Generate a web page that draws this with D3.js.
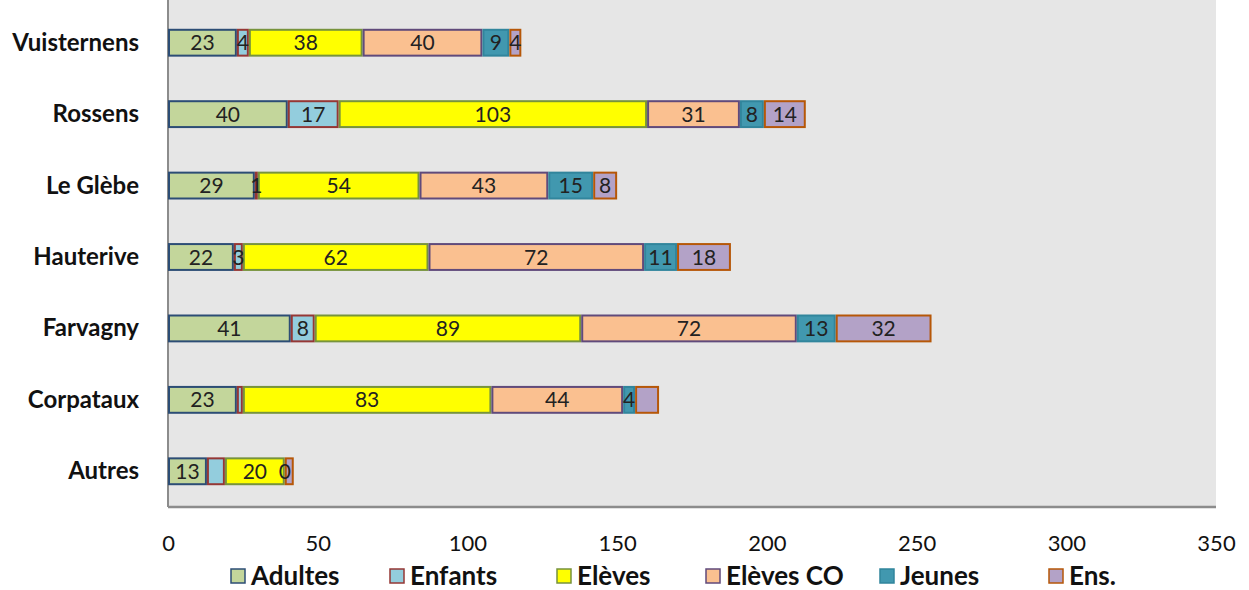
<!DOCTYPE html>
<html><head><meta charset="utf-8">
<script src="https://cdn.jsdelivr.net/npm/d3@7"></script>
<style>body{margin:0;background:#fff}svg{display:block}</style>
</head><body>
<svg id="c" width="1249" height="590"></svg>
<script>
const categories = ["Vuisternens","Rossens","Le Glèbe","Hauterive","Farvagny","Corpataux","Autres"];
const seriesNames = ["Adultes","Enfants","Elèves","Elèves CO","Jeunes","Ens."];
const adultes  = [23, 40, 29, 22, 41, 23, 13];
const enfants  = [4, 17, 1, 3, 8, 2, 6];
const eleves   = [38, 103, 54, 62, 89, 83, 20];
const elevesCO = [40, 31, 43, 72, 72, 44, 0];
const jeunes   = [9, 8, 15, 11, 13, 4, 0];
const ens      = [4, 14, 8, 18, 32, 8, 3];
// labels not displayed in the reference: [series index, category index]
const hiddenLabels = [[1,5],[5,5],[1,6],[4,6],[5,6]];
const xTicks = [0,50,100,150,200,250,300,350];

const fills   = ["#c3d69b","#93cddd","#ffff00","#fac090","#4198af","#b3a2c7"];
const strokes = ["#2c4d75","#953735","#77933c","#604a7b","#31859c","#b65708"];

const values = [adultes, enfants, eleves, elevesCO, jeunes, ens];
const svg = d3.select("#c");
const plot = {l:168, r:1216, t:0, b:507};
const x = d3.scaleLinear().domain([0,350]).range([plot.l, plot.r]);
const y = d3.scaleBand().domain(categories).range([7, plot.b]).paddingInner(0.61).paddingOuter(0.305);

svg.append("rect").attr("x",plot.l).attr("y",plot.t).attr("width",plot.r-plot.l).attr("height",plot.b-plot.t).attr("fill","#e6e6e6");
svg.append("line").attr("x1",plot.l).attr("x2",plot.l).attr("y1",plot.t).attr("y2",plot.b).attr("stroke","#8c8c8c").attr("stroke-width",2);
svg.append("line").attr("x1",plot.l).attr("x2",plot.r).attr("y1",plot.b).attr("y2",plot.b).attr("stroke","#8c8c8c").attr("stroke-width",2.5);

const stackData = categories.map((c,i)=>{const o={cat:c}; seriesNames.forEach((s,j)=>o[s]=values[j][i]); return o;});
const stack = d3.stack().keys(seriesNames)(stackData);

const font = "Lato, 'Open Sans', sans-serif";
stack.forEach((layer,j)=>{
  const g = svg.append("g");
  layer.forEach((d,i)=>{
    const x0 = x(d[0]), x1 = x(d[1]);
    if (x1 - x0 > 0) {
      g.append("rect").attr("x",x0+1).attr("y",y(categories[i])+1)
        .attr("width",Math.max(0,x1-x0-2)).attr("height",y.bandwidth()-2)
        .attr("fill",fills[j]).attr("stroke",strokes[j]).attr("stroke-width",2);
    }
  });
});
stack.forEach((layer,j)=>{
  layer.forEach((d,i)=>{
    if (hiddenLabels.some(h=>h[0]===j && h[1]===i)) return;
    svg.append("text").attr("x",(x(d[0])+x(d[1]))/2).attr("y",y(categories[i])+y.bandwidth()/2+7.5)
      .attr("text-anchor","middle").attr("font-family",font).attr("font-size",21).attr("fill","#222")
      .text(values[j][i]);
  });
});

// category axis labels
svg.append("g").selectAll("text").data(categories).join("text")
  .attr("x",139).attr("y",d=>y(d)+y.bandwidth()/2+8).attr("text-anchor","end")
  .attr("font-family",font).attr("font-weight","bold").attr("font-size",24).attr("fill","#111").text(d=>d);

// x axis
const xa = svg.append("g").attr("transform",`translate(0,${plot.b})`)
  .call(d3.axisBottom(x).tickValues(xTicks).tickSize(0).tickPadding(28));
xa.select(".domain").remove();
xa.selectAll("text").attr("font-family",font).attr("font-size",22).attr("fill","#111");

// legend
const legX = [231, 390, 557, 706, 880, 1049];
const lg = svg.append("g");
seriesNames.forEach((s,j)=>{
  lg.append("rect").attr("x",legX[j]).attr("y",569).attr("width",14).attr("height",14)
    .attr("fill",fills[j]).attr("stroke",strokes[j]).attr("stroke-width",1.5);
  lg.append("text").attr("x",legX[j]+20).attr("y",585).attr("font-family",font).attr("font-weight","bold")
    .attr("font-size",26).attr("fill","#111").text(s);
});
</script>
</body></html>
